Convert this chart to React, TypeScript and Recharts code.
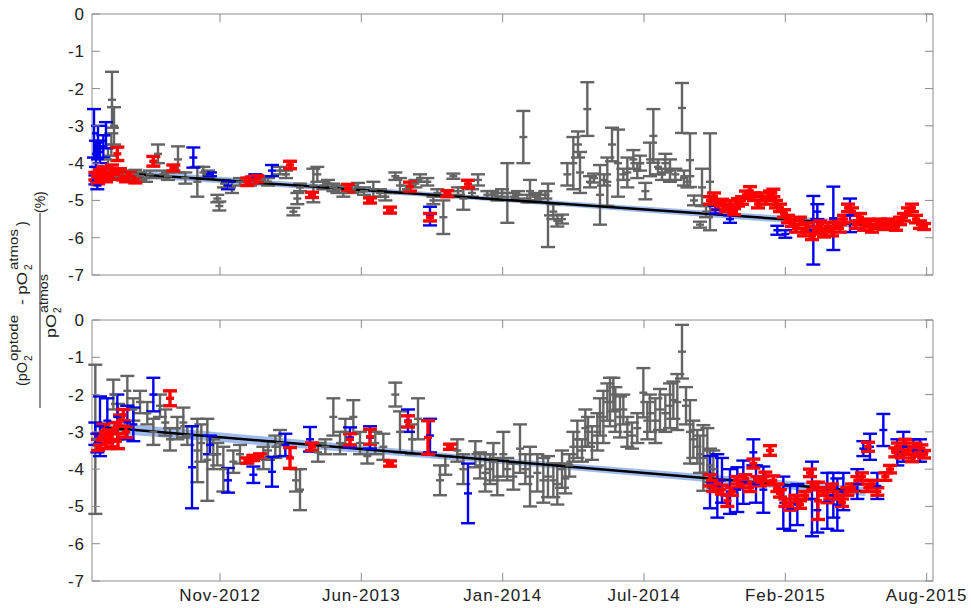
import React from "react";
import {
  ComposedChart,
  Scatter,
  ErrorBar,
  Line,
  Area,
  XAxis,
  YAxis,
  ReferenceLine,
  ReferenceArea
} from "recharts";

type Row = [number, number, number]; // [day since 2012-01-01, value (%), error]

const xDomain: [number, number] = [113, 1374.5];
const tickDays = [305, 517, 729, 941, 1153, 1365];
const tickLabels = ["Nov-2012", "Jun-2013", "Jan-2014", "Jul-2014", "Feb-2015", "Aug-2015"];
const yTicks = [0, -1, -2, -3, -4, -5, -6, -7];

const topGrey: Row[] = [
  [125,-4.3,0.15],[133,-4.2,0.1],[137,-3.9,0.3],[142,-3.5,0.3],[143,-2.3,0.75],[146,-3.0,0.5],[149,-4.35,0.1],
  [158,-4.3,0.1],[167,-4.4,0.1],[178,-4.3,0.12],[185,-4.35,0.1],[194,-4.4,0.1],[200,-4.3,0.1],[212,-3.75,0.25],
  [220,-4.3,0.1],[227,-4.35,0.1],[242,-3.9,0.35],[253,-4.4,0.15],[271,-4.5,0.4],[280,-4.25,0.15],[287,-4.3,0.1],
  [301,-4.95,0.1],[304,-5.15,0.12],[311,-4.55,0.1],[323,-4.65,0.15],[335,-4.5,0.1],[350,-4.5,0.1],[368,-4.45,0.1],
  [377,-4.5,0.1],[395,-4.2,0.1],[404,-4.3,0.1],[415,-5.3,0.1],[421,-4.95,0.15],[425,-4.65,0.1],[445,-4.6,0.45],
  [451,-4.3,0.2],[460,-4.6,0.1],[467,-4.55,0.1],[475,-4.65,0.1],[481,-4.7,0.1],[490,-4.8,0.1],[503,-4.7,0.1],
  [512,-4.65,0.12],[521,-4.75,0.1],[535,-4.7,0.2],[545,-4.8,0.1],[553,-4.9,0.1],[568,-4.35,0.1],[575,-4.6,0.2],
  [584,-4.7,0.1],[598,-4.55,0.1],[605,-4.4,0.1],[616,-4.5,0.1],[625,-5.0,0.1],[631,-4.8,0.1],[640,-5.45,0.45],
  [655,-4.35,0.07],[662,-4.75,0.1],[670,-4.95,0.3],[683,-4.8,0.1],[692,-4.45,0.15],[706,-4.85,0.1],[713,-4.85,0.1],
  [721,-4.9,0.1],[728,-4.8,0.1],[736,-4.8,0.8],[745,-4.9,0.1],[752,-4.85,0.1],[760,-3.3,0.7],[766,-4.95,0.1],
  [770,-4.75,0.3],[778,-4.9,0.1],[785,-4.95,0.1],[793,-4.85,0.1],[797,-5.4,0.85],[805,-5.3,0.2],[811,-5.55,0.15],
  [818,-5.5,0.12],[826,-4.3,0.3],[835,-4.0,0.7],[842,-3.5,0.35],[845,-4.25,0.55],[856,-2.55,0.72],[860,-4.5,0.15],
  [866,-4.4,0.12],[875,-4.85,0.8],[881,-4.45,0.15],[886,-4.5,0.65],[893,-3.5,0.45],[902,-4.0,0.9],[910,-4.3,0.15],
  [916,-4.25,0.4],[925,-3.9,0.25],[931,-4.2,0.2],[935,-4.0,0.2],[943,-4.75,0.22],[950,-3.9,0.45],[955,-3.27,0.72],
  [962,-4.1,0.2],[968,-4.3,0.15],[973,-4.0,0.25],[980,-4.2,0.3],[988,-4.3,0.15],[998,-2.52,0.67],[1001,-4.4,0.2],
  [1006,-4.5,0.15],[1010,-3.92,0.72],[1016,-5.0,0.13],[1025,-5.65,0.08],[1028,-4.65,0.5],[1034,-5.3,0.15],[1040,-4.5,1.3]
];

const topRed: Row[] = [
  [118,-4.35,0.1],[122,-4.45,0.1],[125,-4.3,0.12],[130,-4.2,0.1],[134,-4.4,0.1],[137,-4.25,0.1],[140,-4.35,0.08],
  [143,-4.15,0.1],[148,-4.3,0.1],[151,-3.75,0.18],[155,-4.25,0.1],[160,-4.35,0.1],[164,-4.4,0.1],[170,-4.35,0.1],
  [178,-4.45,0.08],[205,-3.95,0.13],[235,-4.13,0.08],[346,-4.5,0.1],[353,-4.45,0.08],[361,-4.42,0.08],[410,-4.05,0.1],
  [443,-4.85,0.07],[497,-4.67,0.1],[530,-5.0,0.07],[560,-5.26,0.08],[590,-4.63,0.12],[620,-5.45,0.1],[646,-4.82,0.08],
  [677,-4.56,0.1],
  [1040,-5.0,0.1],[1046,-4.9,0.1],[1052,-5.15,0.1],[1058,-5.05,0.08],[1064,-5.2,0.1],[1070,-5.1,0.1],[1076,-5.3,0.08],
  [1082,-5.05,0.1],[1088,-5.0,0.1],[1094,-4.85,0.1],[1100,-4.75,0.12],[1106,-4.9,0.1],[1112,-5.1,0.1],[1118,-4.9,0.1],
  [1124,-5.0,0.1],[1130,-4.85,0.1],[1135,-4.8,0.1],[1139,-5.1,0.1],[1145,-5.2,0.1],[1151,-5.35,0.1],[1157,-5.5,0.1],
  [1163,-5.6,0.1],[1169,-5.75,0.1],[1175,-5.55,0.1],[1181,-5.85,0.1],[1187,-5.7,0.1],[1193,-5.95,0.1],[1199,-5.8,0.1],
  [1205,-5.65,0.1],[1211,-5.9,0.08],[1217,-5.7,0.1],[1223,-5.85,0.1],[1229,-5.6,0.1],[1235,-5.75,0.1],[1241,-5.5,0.1],
  [1247,-5.2,0.1],[1253,-5.3,0.1],[1259,-5.65,0.1],[1265,-5.45,0.1],[1271,-5.7,0.1],[1277,-5.6,0.1],[1283,-5.75,0.1],
  [1289,-5.65,0.1],[1295,-5.6,0.1],[1301,-5.7,0.08],[1307,-5.6,0.1],[1313,-5.65,0.1],[1319,-5.7,0.1],[1325,-5.55,0.1],
  [1331,-5.45,0.1],[1337,-5.3,0.1],[1343,-5.2,0.1],[1349,-5.5,0.1],[1355,-5.65,0.1],[1361,-5.7,0.08]
];

const topBlue: Row[] = [
  [116,-3.2,0.65],[119,-3.75,0.35],[122,-3.45,0.45],[125,-3.7,0.3],[130,-3.55,0.3],[134,-3.25,0.35],[118,-4.45,0.12],
  [121,-4.6,0.1],[265,-3.85,0.27],[290,-4.3,0.05],[317,-4.6,0.1],[358,-4.4,0.1],[383,-4.2,0.15],[620,-5.42,0.25],
  [1048,-5.25,0.1],[1070,-5.5,0.1],[1141,-5.8,0.12],[1153,-5.9,0.1],[1195,-5.8,0.92],[1201,-5.3,0.2],[1225,-5.48,0.85],
  [1250,-5.4,0.45]
];

const bottomGrey: Row[] = [
  [118,-3.2,2.0],[145,-2.0,0.4],[152,-2.6,0.35],[166,-1.9,0.4],[175,-2.4,0.3],[185,-2.2,0.3],[196,-2.5,0.3],
  [205,-3.0,0.35],[215,-2.3,0.3],[223,-2.75,0.35],[230,-3.2,0.3],[241,-2.9,0.3],[250,-2.75,0.4],[256,-3.1,0.25],
  [271,-3.5,0.85],[277,-3.3,0.5],[286,-3.75,1.1],[295,-3.6,0.4],[301,-3.6,0.3],[310,-4.0,0.6],[325,-3.8,0.3],
  [335,-3.6,0.25],[370,-3.7,0.3],[377,-3.5,0.25],[388,-3.4,0.3],[395,-3.3,0.35],[419,-4.3,0.3],[425,-4.55,0.55],
  [452,-3.55,0.25],[463,-3.4,0.2],[475,-2.6,0.5],[485,-3.3,0.3],[493,-3.0,0.35],[505,-2.6,0.45],[515,-3.3,0.3],
  [526,-3.65,0.2],[538,-3.3,0.3],[550,-3.4,0.35],[568,-2.0,0.32],[575,-3.0,0.55],[593,-3.2,0.4],[602,-2.65,0.55],
  [635,-4.3,0.4],[643,-3.9,0.25],[661,-3.5,0.3],[670,-4.0,0.4],[688,-3.6,0.35],[695,-3.9,0.35],[703,-4.1,0.5],
  [710,-4.0,0.4],[715,-3.8,0.5],[721,-4.2,0.5],[730,-3.6,0.6],[736,-4.0,0.3],[745,-4.2,0.35],[755,-3.45,0.65],
  [763,-4.0,0.4],[770,-4.2,0.8],[781,-4.1,0.5],[790,-4.3,0.6],[797,-4.2,0.55],[805,-4.3,0.45],[811,-4.4,0.55],
  [818,-4.0,0.5],[823,-4.25,0.4],[829,-3.9,0.3],[835,-3.4,0.4],[841,-3.2,0.5],[848,-3.5,0.3],[853,-2.9,0.5],
  [857,-3.0,0.4],[863,-3.3,0.45],[871,-3.0,0.5],[875,-2.6,0.5],[880,-2.6,0.7],[886,-2.2,0.5],[890,-2.2,0.65],
  [895,-2.0,0.45],[898,-2.4,0.6],[905,-2.6,0.55],[910,-2.4,0.4],[916,-3.0,0.4],[923,-3.1,0.35],[931,-2.9,0.4],
  [940,-1.95,0.66],[946,-2.7,0.5],[950,-2.5,0.5],[958,-2.7,0.6],[965,-2.4,0.55],[973,-2.5,0.5],[980,-2.3,0.6],
  [985,-2.15,0.5],[991,-2.2,0.75],[998,-0.85,0.72],[1004,-2.3,0.5],[1010,-3.0,0.85],[1015,-3.2,0.5],[1021,-3.4,0.45],
  [1025,-3.6,0.5],[1030,-3.7,0.88],[1036,-3.5,0.6],[1040,-3.9,0.45],[1045,-4.0,0.5]
];

const bottomRed: Row[] = [
  [122,-3.35,0.15],[125,-3.2,0.15],[130,-3.0,0.2],[134,-3.3,0.15],[139,-3.1,0.15],[143,-3.2,0.2],[148,-2.9,0.15],
  [152,-3.25,0.2],[155,-2.7,0.15],[160,-2.55,0.15],[164,-3.0,0.15],[230,-2.1,0.2],[346,-3.77,0.07],[355,-3.7,0.07],
  [365,-3.65,0.06],[410,-3.7,0.28],[443,-3.4,0.1],[500,-3.2,0.15],[530,-3.13,0.2],[560,-3.85,0.07],[587,-2.72,0.15],
  [617,-3.15,0.45],[650,-3.4,0.07],
  [1040,-4.3,0.15],[1045,-4.5,0.1],[1051,-4.4,0.1],[1058,-4.55,0.12],[1066,-4.85,0.15],[1073,-4.6,0.1],[1081,-4.3,0.1],
  [1085,-4.4,0.1],[1093,-4.25,0.1],[1100,-4.5,0.1],[1105,-3.85,0.12],[1111,-4.3,0.1],[1115,-4.35,0.1],[1123,-4.2,0.12],
  [1130,-3.5,0.13],[1135,-4.3,0.12],[1141,-4.5,0.1],[1145,-4.65,0.1],[1153,-4.9,0.1],[1160,-5.0,0.1],[1168,-4.8,0.1],
  [1175,-4.95,0.1],[1183,-4.7,0.1],[1190,-4.1,0.1],[1195,-4.45,0.1],[1202,-4.85,0.5],[1210,-4.6,0.1],[1216,-4.8,0.1],
  [1223,-4.5,0.1],[1231,-4.7,0.1],[1238,-4.9,0.1],[1246,-4.6,0.1],[1253,-4.5,0.1],[1261,-4.3,0.1],[1268,-4.2,0.1],
  [1276,-4.5,0.1],[1277,-3.4,0.12],[1283,-4.4,0.1],[1291,-4.6,0.1],[1303,-4.2,0.1],[1310,-4.0,0.1],[1318,-3.55,0.12],
  [1322,-3.4,0.1],[1328,-3.6,0.1],[1333,-3.3,0.1],[1337,-3.5,0.1],[1343,-3.7,0.1],[1348,-3.4,0.1],[1352,-3.55,0.1],
  [1357,-3.45,0.1],[1361,-3.6,0.1]
];

const bottomBlue: Row[] = [
  [118,-3.05,0.3],[121,-3.3,0.25],[125,-2.85,0.8],[136,-2.7,0.6],[151,-2.6,0.6],[166,-2.75,0.45],[175,-2.8,0.45],
  [205,-2.0,0.45],[263,-3.95,1.1],[290,-3.35,0.25],[317,-4.3,0.33],[355,-4.15,0.22],[383,-4.07,0.4],[403,-3.35,0.3],
  [440,-3.2,0.33],[500,-3.15,0.27],[530,-3.15,0.3],[587,-2.7,0.3],[620,-3.1,0.45],[677,-4.65,0.8],
  [1040,-4.35,0.7],[1051,-4.45,0.85],[1058,-4.3,0.6],[1070,-4.6,0.6],[1081,-4.55,0.6],[1090,-4.35,0.58],
  [1105,-3.55,0.35],[1109,-4.4,0.5],[1120,-4.55,0.62],[1150,-4.9,0.7],[1160,-5.05,0.6],[1171,-4.95,0.55],
  [1193,-4.8,1.0],[1201,-5.1,0.6],[1216,-4.85,0.75],[1225,-4.7,0.6],[1231,-4.95,0.7],[1240,-4.6,0.5],
  [1261,-4.4,0.4],[1270,-3.45,0.2],[1280,-3.4,0.35],[1291,-4.45,0.35],[1300,-2.95,0.43],[1321,-3.55,0.35],
  [1330,-3.4,0.4],[1345,-3.5,0.3],[1355,-3.5,0.3]
];

// linear fits with their confidence band [day, low, high]
const trendTop = [[125, -4.23], [1276, -5.66]];
const trendBottom = [[125, -2.87], [1273, -4.6]];
const bandTop = [[125, -4.33, -4.13], [700, -5.0, -4.88], [1276, -5.76, -5.56]];
const bandBottom = [[125, -3.02, -2.72], [700, -3.82, -3.66], [1273, -4.72, -4.48]];

const GREY = "#646464";
const RED = "#ff0000";
const BLUE = "#0000ee";
const AXIS = "#8c8c8c";
const FONT = "'Liberation Sans', Arial, sans-serif";

const rows = (a: Row[]) => a.map(([x, y, err]) => ({ x, y, err }));
const line = (a: number[][]) => a.map(([x, y]) => ({ x, y }));
const band = (a: number[][]) => a.map(([x, lo, hi]) => ({ x, band: [lo, hi] }));

const mark = (color: string, half: number, sw: number) => (p: any) =>
  <line x1={p.cx - half} x2={p.cx + half} y1={p.cy} y2={p.cy} stroke={color} strokeWidth={sw} />;

const series = (data: Row[], color: string, sw: number, key: string) => (
  <Scatter key={key} data={rows(data)} dataKey="y" shape={mark(color, 4, sw)} isAnimationActive={false}>
    <ErrorBar dataKey="err" direction="y" width={7} stroke={color} strokeWidth={sw} isAnimationActive={false} />
  </Scatter>
);

const frameTicks = () => [
  ...yTicks.map((v) => (
    <ReferenceLine key={"l" + v} segment={[{ x: xDomain[0], y: v }, { x: xDomain[0] + 12, y: v }]} stroke={AXIS} />
  )),
  ...yTicks.map((v) => (
    <ReferenceLine key={"r" + v} segment={[{ x: xDomain[1] - 12, y: v }, { x: xDomain[1], y: v }]} stroke={AXIS} />
  )),
  ...tickDays.map((d) => (
    <ReferenceLine key={"b" + d} segment={[{ x: d, y: -7 }, { x: d, y: -6.78 }]} stroke={AXIS} />
  )),
  ...tickDays.map((d) => (
    <ReferenceLine key={"t" + d} segment={[{ x: d, y: 0 }, { x: d, y: -0.22 }]} stroke={AXIS} />
  )),
  <ReferenceArea key="box" x1={xDomain[0]} x2={xDomain[1]} y1={-7} y2={0} fill="none" fillOpacity={0} stroke={AXIS} strokeOpacity={1} />
];

const Panel = ({ grey, red, blue, trend, bnd, showX, height, margin }: any) => (
  <ComposedChart width={963} height={height} margin={margin}>
    <XAxis
      type="number"
      dataKey="x"
      domain={xDomain}
      ticks={tickDays}
      tickFormatter={(v: number) => tickLabels[tickDays.indexOf(v)] ?? ""}
      hide={!showX}
      height={showX ? 27 : 0}
      axisLine={false}
      tickLine={false}
      tickSize={0}
      tickMargin={8}
      allowDataOverflow
      tick={{ fontSize: 17, fill: "#222", fontFamily: FONT, letterSpacing: 1 }}
    />
    <YAxis
      type="number"
      domain={[-7, 0]}
      ticks={yTicks}
      width={40}
      axisLine={false}
      tickLine={false}
      tickSize={0}
      tickMargin={7}
      allowDataOverflow
      tick={{ fontSize: 17, fill: "#222", fontFamily: FONT, letterSpacing: 1 }}
    />
    <Area data={band(bnd)} dataKey="band" type="linear" fill="#7fa3e6" fillOpacity={0.75} stroke="none" isAnimationActive={false} />
    {series(grey, GREY, 2.4, "g")}
    <Line data={line(trend)} dataKey="y" type="linear" stroke="#000" strokeWidth={2.5} dot={false} activeDot={false} isAnimationActive={false} />
    {series(blue, BLUE, 2.4, "b")}
    {series(red, RED, 3.4, "r")}
    {frameTicks()}
  </ComposedChart>
);

const YLabel = () => (
  <svg width={90} height={608} style={{ position: "absolute", left: 0, top: 0, pointerEvents: "none" }}>
    <g fill="#222" fontFamily={FONT}>
      <g transform="translate(27,386) rotate(-90)">
        <text x={0} y={0} fontSize={14} textLength={24} lengthAdjust="spacingAndGlyphs">(pO</text>
        <text x={25} y={5} fontSize={10}>2</text>
        <text x={25} y={-9} fontSize={12} textLength={46} lengthAdjust="spacingAndGlyphs">optode</text>
        <text x={81} y={0} fontSize={14} textLength={33} lengthAdjust="spacingAndGlyphs">- pO</text>
        <text x={116} y={5} fontSize={10}>2</text>
        <text x={116} y={-9} fontSize={12} textLength={41} lengthAdjust="spacingAndGlyphs">atmos</text>
        <text x={160} y={0} fontSize={14}>)</text>
      </g>
      <line x1={40} y1={213} x2={40} y2={408} stroke="#222" strokeWidth={1} />
      <g transform="translate(56,386) rotate(-90)">
        <text x={48} y={0} fontSize={14} textLength={24} lengthAdjust="spacingAndGlyphs">pO</text>
        <text x={73} y={5} fontSize={10}>2</text>
        <text x={73} y={-8} fontSize={12} textLength={39} lengthAdjust="spacingAndGlyphs">atmos</text>
      </g>
      <g transform="translate(45,386) rotate(-90)">
        <text x={173} y={0} fontSize={14}>(%)</text>
      </g>
    </g>
  </svg>
);

export default function App() {
  return (
    <div style={{ position: "relative", width: 971, height: 608, fontFamily: FONT, background: "#fff" }}>
      <style>{"html { overflow: hidden; } body { margin: 0; }"}</style>
      <div style={{ position: "absolute", left: 8, top: 0 }}>
        <Panel grey={topGrey} red={topRed} blue={topBlue} trend={trendTop} bnd={bandTop}
          showX={false} height={288} margin={{ top: 14, right: 38, bottom: 13, left: 44 }} />
      </div>
      <div style={{ position: "absolute", left: 8, top: 300 }}>
        <Panel grey={bottomGrey} red={bottomRed} blue={bottomBlue} trend={trendBottom} bnd={bandBottom}
          showX={true} height={308} margin={{ top: 20, right: 38, bottom: 0, left: 44 }} />
      </div>
      <YLabel />
    </div>
  );
}
